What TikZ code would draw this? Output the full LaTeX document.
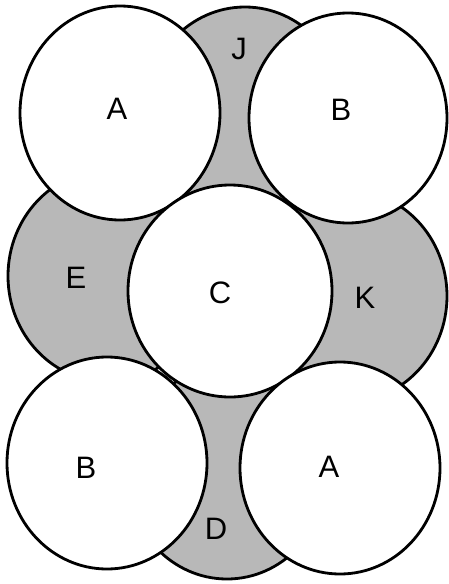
\documentclass[tikz,border=0pt]{standalone}
\usepackage{fontspec}
\setmainfont{Liberation Sans}
\usetikzlibrary{shapes.geometric}
\tikzset{
  disc/.style={ellipse, draw=black, line width=2.8pt, inner sep=0pt, outer sep=0pt,
    minimum width=200pt, minimum height=212pt},
  whitedisc/.style={disc, fill=white},
  graydisc/.style={disc, fill=black!28},
  lbl/.style={font=\fontsize{31}{31}\selectfont, inner sep=0pt, text=black}
}
\begin{document}
\begin{tikzpicture}[x=1pt,y=-1pt]
\useasboundingbox (0,0) rectangle (449,584);
% shaded circles behind
\node[graydisc] (J) at (245,113) {};
\node[graydisc] (E) at (108,276) {};
\node[graydisc] (K) at (347,296) {};
\node[graydisc] (D) at (227,473) {};
% white circles in front
\node[whitedisc, minimum height=214pt] (A1) at (120,113) {};
\node[whitedisc, minimum width=198pt, minimum height=210pt] (B1) at (348,118) {};
\node[whitedisc, minimum width=204pt] (C) at (230,291) {};
\node[whitedisc] (B2) at (107,463) {};
\node[whitedisc] (A2) at (340,468) {};
% labels
\node[lbl] (lA1) at (117,109) {A};
\node[lbl] (lB1) at (341,110) {B};
\node[lbl] (lJ) at (239,49) {J};
\node[lbl] (lE) at (76,278) {E};
\node[lbl] (lC) at (220,293) {C};
\node[lbl] (lK) at (365,298) {K};
\node[lbl] (lB2) at (86,468) {B};
\node[lbl] (lA2) at (329,467) {A};
\node[lbl] (lD) at (216,529) {D};
\end{tikzpicture}
\end{document}
